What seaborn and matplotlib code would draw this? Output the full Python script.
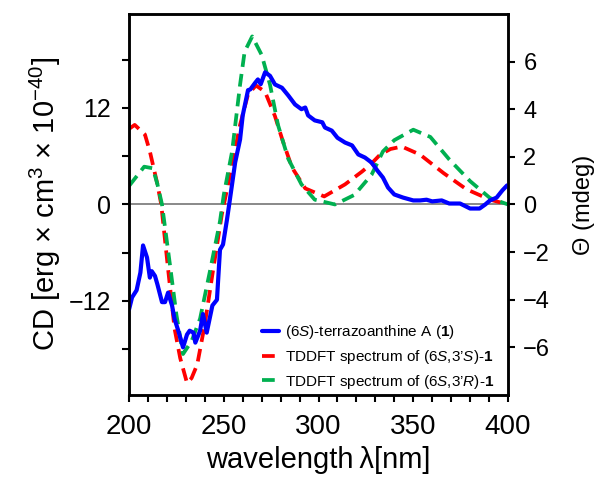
import numpy as np
import pandas as pd
import matplotlib
matplotlib.use("Agg")
import matplotlib.pyplot as plt
from matplotlib.ticker import MultipleLocator, FixedLocator
import seaborn as sns

sns.set_style("ticks")
plt.rcParams['font.family'] = ['Liberation Sans', 'DejaVu Sans']
plt.rcParams['mathtext.fontset'] = 'custom'
plt.rcParams['mathtext.rm'] = 'Liberation Sans'
plt.rcParams['mathtext.it'] = 'Liberation Sans:italic'
plt.rcParams['mathtext.bf'] = 'Liberation Sans:bold'
for k in ("text.color", "axes.labelcolor", "xtick.color", "ytick.color"):
    plt.rcParams[k] = "black"

# experimental CD (mdeg, right axis)
exp_wl = [200, 201.6, 204, 206, 207.4, 209.5, 211, 212, 213.7, 215, 217.4, 219, 220.6, 222.7,
          224, 226, 228.5, 230.6, 232, 234, 235, 237.5, 239, 241, 244, 246.4, 248, 249.6,
          251.7, 253, 256, 258.6, 260, 262.8, 264, 266.5, 268, 269.5, 271.8, 274.4, 277,
          280.7, 284, 287.6, 291, 293, 294.5, 298, 302, 303.4, 307, 310, 314, 317.7, 321,
          324.5, 328, 331, 334, 336.7, 340, 344.6, 350, 353.6, 357, 360, 365, 369, 374.7,
          380, 385, 388, 390.5, 394, 397, 399.5]
exp_cd = [-4.41, -3.9, -3.6, -2.86, -1.72, -2.23, -3.07, -2.8, -3.0, -3.36, -4.1, -4.1, -3.7,
          -4.24, -4.8, -5.3, -6.0, -5.46, -5.3, -5.38, -5.8, -5.3, -4.6, -5.38, -4.24, -4.0,
          -1.9, -1.68, -0.63, 0.08, 1.76, 2.73, 3.74, 4.8, 4.83, 5.1, 5.25, 5.05, 5.55, 5.4,
          5.04, 4.9, 4.58, 4.2, 4.0, 4.07, 3.74, 3.53, 3.45, 3.23, 3.1, 2.8, 2.6, 2.48, 2.1,
          1.97, 1.76, 1.43, 1.13, 0.71, 0.42, 0.29, 0.17, 0.17, 0.2, 0.13, 0.17, 0.04, 0.04,
          -0.17, -0.17, 0.0, 0.17, 0.29, 0.59, 0.8]

# TDDFT (6S,3'S) - left axis
ss_wl = [200, 203, 208.4, 211, 215, 217, 220.6, 224, 227, 230.6, 233, 236, 240, 244, 249,
         254, 258.6, 262.8, 267, 271.8, 277, 281, 286, 293, 303, 314, 323, 328, 332.5, 338,
         344, 353.6, 366, 378, 390.5, 400]
ss_cd = [9.4, 9.9, 8.7, 6.6, 2.5, 0.0, -8.0, -15.4, -19.1, -22.2, -21.6, -19.9, -14.9, -8.7,
         -1.2, 4.5, 9.9, 13.7, 14.8, 14.0, 11.0, 8.0, 4.6, 2.0, 1.0, 2.5, 4.1, 5.1, 6.2, 6.9,
         7.2, 6.2, 3.9, 1.9, 0.6, 0.0]

# TDDFT (6S,3'R) - left axis
sr_wl = [200, 203, 206, 208, 212.6, 215, 217.4, 221.6, 225, 228.5, 233, 237.5, 242.7, 248,
         250, 254.4, 258.6, 261, 265, 270, 274.4, 278.6, 284, 291, 298, 308.7, 319, 328, 334,
         340, 350, 359, 369, 380, 390.5, 400]
sr_cd = [2.3, 3.2, 4.1, 4.7, 4.5, 2.5, 0.0, -7.5, -13.7, -18.6, -17.0, -14.2, -8.3, -2.1,
         1.2, 6.6, 14.9, 19.0, 20.9, 18.6, 14.9, 9.9, 5.7, 2.5, 0.6, 0.0, 1.2, 3.7, 6.6,
         8.0, 9.3, 8.4, 5.6, 2.9, 0.8, 0.0]

labels = ["$\\it{(6S)}$-terrazoanthine A ($\\bf{1}$)",
          "TDDFT spectrum of $\\it{(6S{,}3\u2019S)}$-$\\bf{1}$",
          "TDDFT spectrum of $\\it{(6S{,}3\u2019R)}$-$\\bf{1}$"]

fig = plt.figure(figsize=(5.99, 4.8), dpi=100)
ax = fig.add_axes([0.2154, 0.177, 0.6327, 0.794])
ax2 = ax.twinx()

ax.axhline(0, color="#808080", lw=1.3, zorder=1)
dash = (0, (3.4, 1.9))
sns.lineplot(x=ss_wl, y=ss_cd, ax=ax, color="#ff0000", lw=2.7, linestyle=dash, sort=False)
sns.lineplot(x=sr_wl, y=sr_cd, ax=ax, color="#00b050", lw=2.7, linestyle=dash, sort=False)
sns.lineplot(x=exp_wl, y=exp_cd, ax=ax2, color="#0000ff", lw=3.0, sort=False)

ax.set_xlim(200, 400)
ax.set_ylim(-23.7, 23.7)
ax2.set_ylim(-8, 8)

ax.xaxis.set_major_locator(MultipleLocator(50))
ax.xaxis.set_minor_locator(MultipleLocator(10))
ax.yaxis.set_major_locator(FixedLocator([-12, 0, 12]))
ax.yaxis.set_minor_locator(MultipleLocator(6))
ax2.yaxis.set_major_locator(FixedLocator([-6, -4, -2, 0, 2, 4, 6]))
ax.set_yticklabels(["\u221212", "0", "12"])

for a in (ax, ax2):
    for s in a.spines.values():
        s.set_linewidth(1.8)
        s.set_color("black")
ax.tick_params(axis="x", which="both", direction="out", top=False, length=5, width=1.5,
               labelsize=20, pad=9)
ax.tick_params(axis="y", which="both", direction="out", length=5, width=1.5,
               labelsize=18, pad=8)
ax2.tick_params(axis="y", which="both", direction="out", length=5, width=1.5,
                labelsize=17, pad=6)

ax.set_xlabel("wavelength\u2009\u03bb[nm]", fontsize=21, labelpad=4)
ax.set_ylabel("CD [erg \u00d7 cm$^3$ \u00d7 10$^{\u221240}$]", fontsize=21, labelpad=4)
ax2.set_ylabel("\u0398 (mdeg)", fontsize=17, labelpad=16)

h1 = ax2.get_lines()[0]
h2, h3 = ax.get_lines()[1], ax.get_lines()[2]
ax2.legend([h1, h2, h3], labels, loc="center left", bbox_to_anchor=(0.33, 0.1),
           frameon=False, fontsize=11, handlelength=1.1, handletextpad=0.4,
           labelspacing=0.45, borderpad=0)

fig.savefig("out.png", dpi=100)
